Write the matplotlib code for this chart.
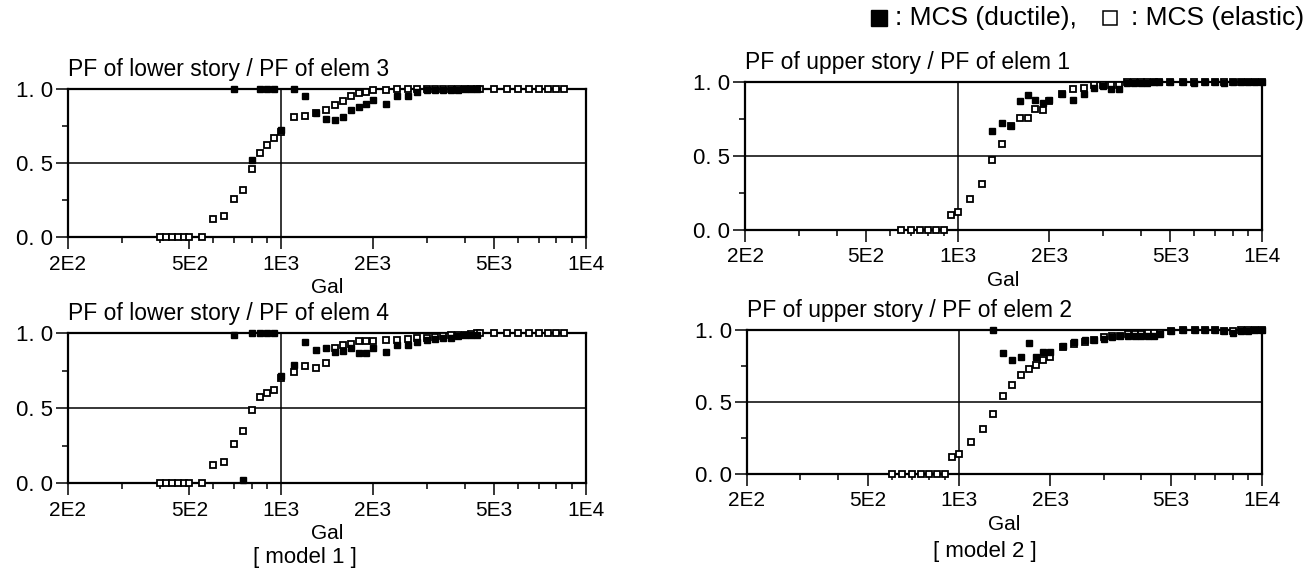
import matplotlib
matplotlib.use('Agg')
import matplotlib.pyplot as plt
from matplotlib.lines import Line2D

plt.rcParams['font.family'] = ['Liberation Sans', 'DejaVu Sans']

# Gal grids
g_low = [400, 420, 440, 460, 480, 500, 550, 600, 650, 700, 750, 800, 850, 900, 950, 1000,
         1100, 1200, 1300, 1400, 1500, 1600, 1700, 1800, 1900, 2000, 2200, 2400, 2600,
         2800, 3000, 3200, 3400, 3600, 3800, 4000, 4200, 4400,
         4500, 5000, 5500, 6000, 6500, 7000, 7500, 8000, 8500]
g_mid = [1300, 1400, 1500, 1600, 1700, 1800, 1900, 2000, 2200, 2400, 2600,
         2800, 3000, 3200, 3400, 3600, 3800, 4000, 4200, 4400, 4600,
         5000, 5500, 6000, 6500, 7000, 7500, 8000, 8500, 9000, 9500, 10000]

# [model 1] lower story / elem 3
a_el_x = g_low
a_el_y = [0, 0, 0, 0, 0, 0, 0, 0.12, 0.14, 0.26, 0.32, 0.46, 0.57, 0.62, 0.67, 0.71,
          0.81, 0.82, 0.84, 0.86, 0.89, 0.92, 0.95, 0.97, 0.98, 0.99, 0.99, 1.0, 1.0,
          1.0, 1.0, 1.0, 1.0, 1.0, 1.0, 1.0, 1.0, 1.0,
          1.0, 1.0, 1.0, 1.0, 1.0, 1.0, 1.0, 1.0, 1.0]
a_du_x = [700, 800, 850, 900, 950, 1000, 1100, 1200, 1300, 1400, 1500, 1600, 1700, 1800,
          1900, 2000, 2200, 2400, 2600, 2800, 3000, 3200, 3400, 3600, 3800, 4000, 4200, 4400]
a_du_y = [1.0, 0.52, 1.0, 1.0, 1.0, 0.72, 1.0, 0.95, 0.84, 0.80, 0.79, 0.81, 0.86, 0.88,
          0.90, 0.925, 0.90, 0.95, 0.95, 0.98, 0.99, 0.99, 0.99, 0.995, 0.995, 1.0, 1.0, 1.0]

# [model 1] lower story / elem 4
c_el_x = g_low
c_el_y = [0, 0, 0, 0, 0, 0, 0, 0.12, 0.14, 0.26, 0.35, 0.49, 0.575, 0.60, 0.62, 0.70,
          0.74, 0.78, 0.77, 0.80, 0.90, 0.92, 0.93, 0.95, 0.95, 0.95, 0.955, 0.955, 0.96,
          0.965, 0.97, 0.975, 0.98, 0.985, 0.99, 0.99, 0.995, 1.0,
          1.0, 1.0, 1.0, 1.0, 1.0, 1.0, 1.0, 1.0, 1.0]
c_du_x = [700, 750, 800, 850, 900, 950, 1000, 1100, 1200, 1300, 1400, 1500, 1600, 1700,
          1800, 1900, 2000, 2200, 2400, 2600, 2800, 3000, 3200, 3400, 3600, 3800, 4000, 4200, 4400]
c_du_y = [0.99, 0.02, 1.0, 1.0, 1.0, 1.0, 0.715, 0.79, 0.94, 0.89, 0.90, 0.875, 0.88, 0.90,
          0.865, 0.865, 0.90, 0.875, 0.92, 0.92, 0.94, 0.955, 0.96, 0.97, 0.965, 0.98, 0.99,
          0.985, 0.99]

# [model 2] upper story / elem 1
b_el_x = [650, 700, 750, 800, 850, 900, 950, 1000, 1100, 1200] + g_mid
b_el_y = [0, 0, 0, 0, 0, 0, 0.10, 0.12, 0.21, 0.31,
          0.47, 0.58, 0.70, 0.76, 0.76, 0.82, 0.81, 0.87, 0.92, 0.95, 0.96,
          0.98, 0.98, 0.98, 0.98, 1.0, 1.0, 1.0, 1.0, 1.0, 1.0,
          1.0, 1.0, 1.0, 1.0, 1.0, 1.0, 1.0, 1.0, 1.0, 1.0, 1.0]
b_du_x = g_mid
b_du_y = [0.67, 0.72, 0.70, 0.87, 0.91, 0.88, 0.86, 0.88, 0.92, 0.88, 0.92,
          0.96, 0.97, 0.95, 0.95, 0.99, 0.99, 0.995, 0.99, 1.0, 1.0,
          1.0, 1.0, 0.99, 1.0, 1.0, 0.99, 1.0, 1.0, 1.0, 1.0, 1.0]

# [model 2] upper story / elem 2
d_el_x = [600, 650, 700, 750, 800, 850, 900, 950, 1000, 1100, 1200] + g_mid
d_el_y = [0, 0, 0, 0, 0, 0, 0, 0.12, 0.14, 0.22, 0.31,
          0.42, 0.54, 0.62, 0.69, 0.73, 0.76, 0.79, 0.81, 0.88, 0.90, 0.92,
          0.93, 0.95, 0.96, 0.96, 0.97, 0.97, 0.97, 0.98, 0.98, 0.98,
          0.99, 1.0, 1.0, 1.0, 1.0, 0.99, 0.99, 1.0, 1.0, 1.0, 1.0]
d_du_x = g_mid
d_du_y = [1.0, 0.84, 0.79, 0.81, 0.91, 0.81, 0.85, 0.85, 0.89, 0.92, 0.93,
          0.93, 0.94, 0.95, 0.96, 0.96, 0.96, 0.96, 0.96, 0.96, 0.97,
          0.99, 1.0, 1.0, 1.0, 1.0, 0.99, 0.98, 0.99, 0.99, 1.0, 1.0]

titles = ['PF of lower story / PF of elem 3', 'PF of upper story / PF of elem 1',
          'PF of lower story / PF of elem 4', 'PF of upper story / PF of elem 2']
xticks = [200, 500, 1000, 2000, 5000, 10000]
xticklabels = ['2E2', '5E2', '1E3', '2E3', '5E3', '1E4']
xminor = [300, 400, 600, 700, 800, 900, 3000, 4000, 6000, 7000, 8000, 9000]
yticklabels = ['0. 0', '0. 5', '1. 0']

W, H = 1310, 577
fig = plt.figure(figsize=(W / 100, H / 100), dpi=100)


def rect(l, r, t, b):
    return [l / W, 1 - b / H, (r - l) / W, (b - t) / H]


panels = [
    (rect(68, 586, 89, 237), a_el_x, a_el_y, a_du_x, a_du_y),
    (rect(745, 1262, 82, 230), b_el_x, b_el_y, b_du_x, b_du_y),
    (rect(68, 586, 333, 483), c_el_x, c_el_y, c_du_x, c_du_y),
    (rect(747, 1262, 330, 474), d_el_x, d_el_y, d_du_x, d_du_y),
]

for i, (r, ex, ey, dx, dy) in enumerate(panels):
    ax = fig.add_axes(r)
    ax.set_xscale('log')
    ax.set_xlim(200, 10000)
    ax.set_ylim(0, 1)
    ax.axhline(0.5, color='black', lw=1.1, zorder=1)
    ax.axvline(1000, color='black', lw=1.1, zorder=1)
    ax.plot(ex, ey, 's', ms=5, mfc='white', mec='black', mew=1.3, ls='none',
            clip_on=False, zorder=3)
    ax.plot(dx, dy, 's', ms=5, mfc='black', mec='black', mew=1.0, ls='none',
            clip_on=False, zorder=4)
    ax.set_xticks(xticks)
    ax.set_xticklabels(xticklabels, fontsize=15)
    ax.set_xticks(xminor, minor=True)
    ax.set_xticklabels([''] * len(xminor), minor=True)
    ax.set_yticks([0, 0.5, 1.0])
    ax.set_yticklabels(yticklabels, fontsize=16)
    ax.set_yticks([0.25, 0.75], minor=True)
    ax.tick_params(which='major', direction='out', length=8.6, width=1.1, pad=4)
    ax.tick_params(which='minor', direction='out', length=4.3, width=1.1)
    ax.tick_params(axis='y', which='major', pad=2)
    for s in ax.spines.values():
        s.set_linewidth(1.6)
    ax.set_title(titles[i], loc='left', fontsize=16.5, pad=9.5)
    ax.set_xlabel('Gal', fontsize=15, labelpad=3)

# legend drawn as separate pieces
ly = 1 - 18 / H
fig.add_artist(Line2D([879 / W], [ly], marker='s', ms=11, mfc='black', mec='black',
                      ls='none', transform=fig.transFigure))
fig.text(895 / W, ly, ': MCS (ductile),', ha='left', va='center', fontsize=19)
fig.add_artist(Line2D([1110 / W], [ly], marker='s', ms=10.5, mfc='white', mec='black',
                      mew=1.1, ls='none', transform=fig.transFigure))
fig.text(1304 / W, ly, ': MCS (elastic)', ha='right', va='center', fontsize=19)

fig.text(305 / W, 1 - 557 / H, '[ model 1 ]', ha='center', va='center', fontsize=16)
fig.text(985 / W, 1 - 552 / H, '[ model 2 ]', ha='center', va='center', fontsize=16)

fig.savefig('out.png', dpi=100)
